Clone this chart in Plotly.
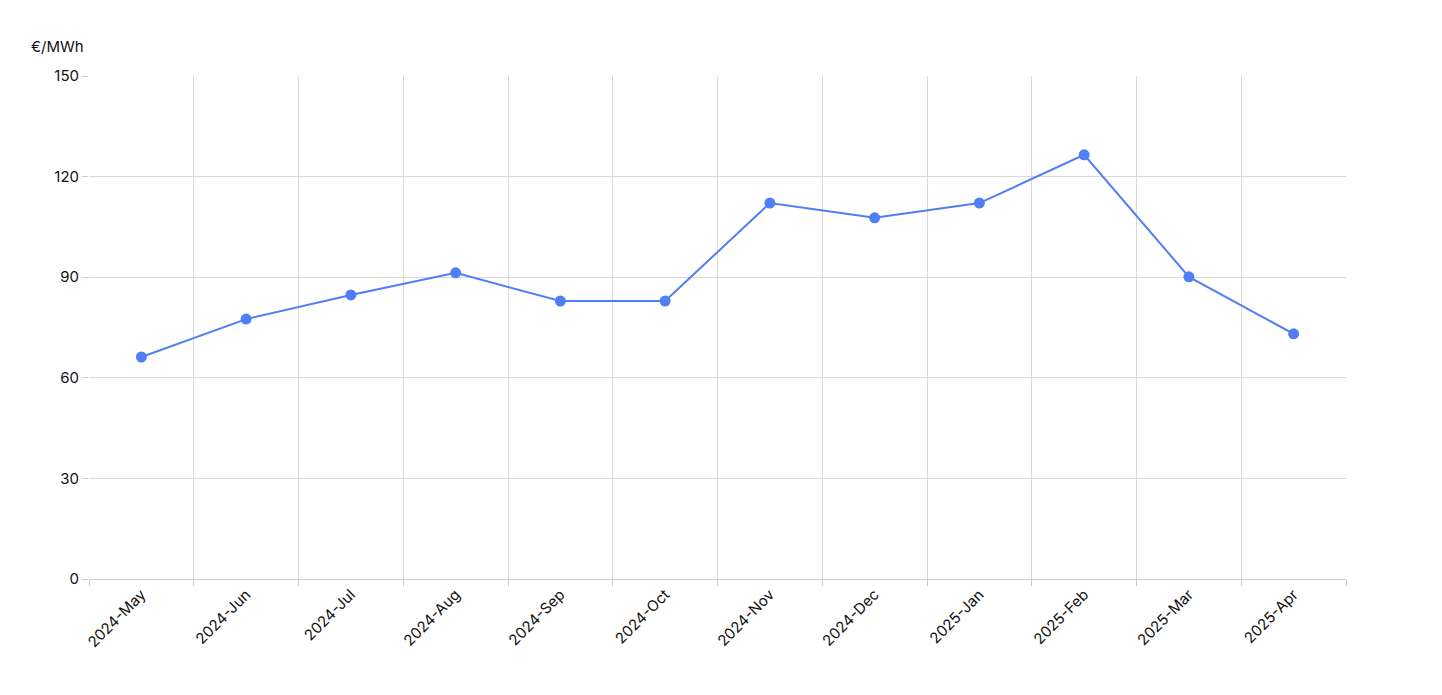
import plotly.graph_objects as go

months = ["2024-May","2024-Jun","2024-Jul","2024-Aug","2024-Sep","2024-Oct",
          "2024-Nov","2024-Dec","2025-Jan","2025-Feb","2025-Mar","2025-Apr"]
prices = [66.2, 77.5, 84.7, 91.3, 82.9, 82.9, 112.1, 107.7, 112.1, 126.5, 90.1, 73.1]
y_ticks = [0, 30, 60, 90, 120, 150]

fig = go.Figure(go.Scatter(
    x=months, y=prices, mode="lines+markers",
    line=dict(color="#4f7ef7", width=2),
    marker=dict(color="#4f7ef7", size=11),
))
fig.update_layout(
    width=1442, height=695,
    margin=dict(l=81, r=104, t=68, b=124),
    plot_bgcolor="white", paper_bgcolor="white",
    font=dict(family="Inter, sans-serif", size=15, color="#111"),
    showlegend=False,
    annotations=[dict(text="€/MWh", xref="paper", yref="paper", x=-0.025, y=1.035,
                      xanchor="center", yanchor="bottom", showarrow=False,
                      font=dict(size=15))],
)
fig.update_xaxes(type="category", tickson="boundaries", tickangle=-45,
                 range=[-0.5, len(months) - 0.5],
                 showgrid=True, gridcolor="#d9d9d9", ticks="outside", ticklen=6,
                 tickcolor="#ccc", showline=True, linecolor="#ccc")
fig.update_yaxes(range=[0, 150], tickvals=y_ticks, showgrid=True, gridcolor="#d9d9d9",
                 ticks="outside", ticklen=6, tickcolor="#ccc", zeroline=False,
                 showline=False)
fig.write_html("out.html")
